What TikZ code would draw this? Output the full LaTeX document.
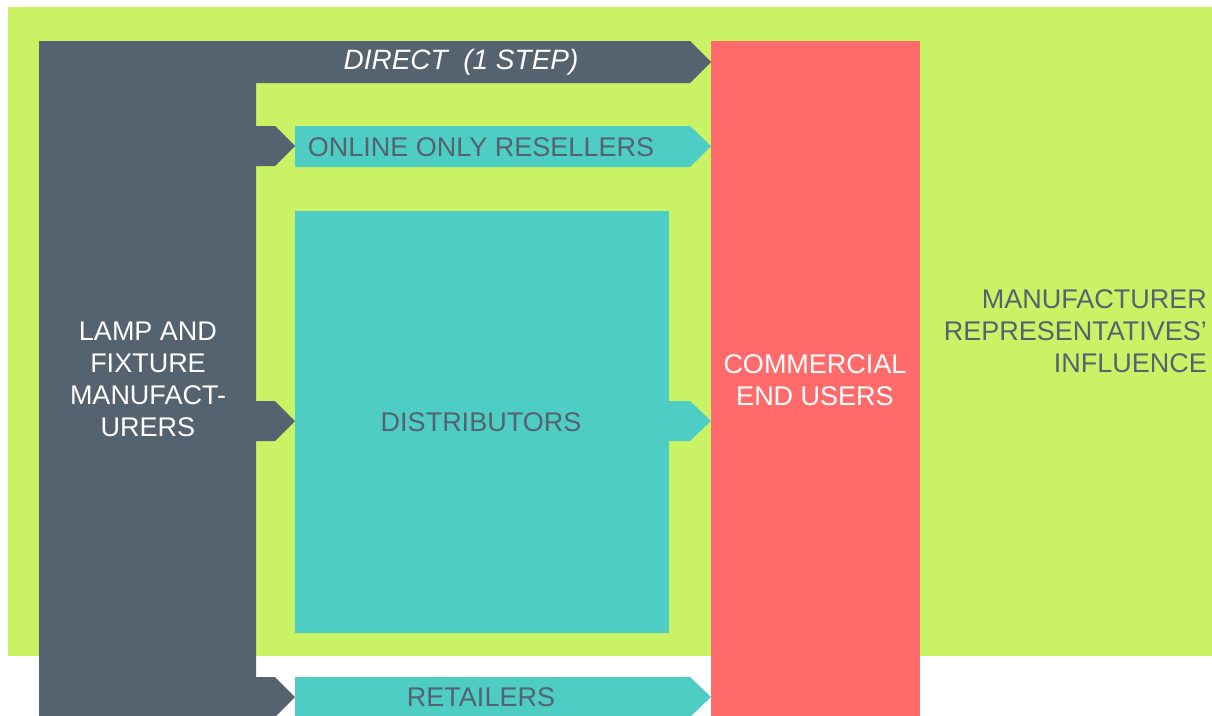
\documentclass[tikz,border=0pt]{standalone}
\usepackage{fontspec}
\setmainfont{Liberation Sans}
\usetikzlibrary{positioning, calc}

\definecolor{bgGreen}{HTML}{C9F364}
\definecolor{mfrGrey}{HTML}{556270}
\definecolor{chanTeal}{HTML}{4ECDC4}
\definecolor{userRed}{HTML}{FF6B6B}

\begin{document}
\begin{tikzpicture}[
    x=1pt, y=-1pt,
    label/.style={
        inner sep=0pt,
        align=center,
        font=\fontsize{27}{32}\selectfont
    },
    lighttext/.style={
        label,
        text=white
    },
    darktext/.style={
        label,
        text=mfrGrey
    },
    block/.style={
        rectangle,
        inner sep=0pt,
        anchor=north west
    },
    channel/.style={
        fill=chanTeal
    }
]

% ===== canvas =====
\clip (0,0) rectangle (1212,715);
\fill[white] (0,0) rectangle (1212,715);

% ===== representatives' influence =====
\fill[bgGreen] (8,7) rectangle (1212,656);
\node[darktext, align=right, anchor=east] (reps) at (1207,331) {MANUFACTURER\\REPRESENTATIVES'\\INFLUENCE};

% ===== end users =====
\node[block, fill=userRed, minimum width=209pt, minimum height=676pt] (users) at (711,41) {};
\node[lighttext] (userstxt) at (815,380) {COMMERCIAL\\END USERS};

% ===== manufacturers =====
\fill[mfrGrey] (39,717) -- (39,41) -- (690,41) -- (711,62) -- (690,83)
    -- (256,83) -- (256,717) -- cycle;
\foreach \y in {146,421,697} {
    \fill[mfrGrey] (250,\y-20) -- (275,\y-20) -- (295,\y) -- (275,\y+20) -- (250,\y+20) -- cycle;
}
\node[lighttext] (mfr) at (148,379) {LAMP AND\\FIXTURE\\MANUFACT-\\URERS};
\node[lighttext, font=\fontsize{28}{32}\selectfont\itshape] (direct) at (461,62) {DIRECT\ \ (1 STEP)};

% ===== channels =====
\node[block, fill=chanTeal, minimum width=374pt, minimum height=422pt] (dist) at (295,211) {};
\fill[channel] (295,126) -- (690,126) -- (711,146) -- (690,167) -- (295,167) -- cycle;
\fill[channel] (668,401) -- (690,401) -- (711,421) -- (690,441) -- (668,441) -- cycle;
\fill[channel] (295,677) -- (690,677) -- (711,697) -- (690,717) -- (295,717) -- cycle;

\node[darktext] (online) at (481,147) {ONLINE ONLY RESELLERS};
\node[darktext] (disttxt) at (481,422) {DISTRIBUTORS};
\node[darktext] (retail) at (481,697) {RETAILERS};

\end{tikzpicture}
\end{document}
